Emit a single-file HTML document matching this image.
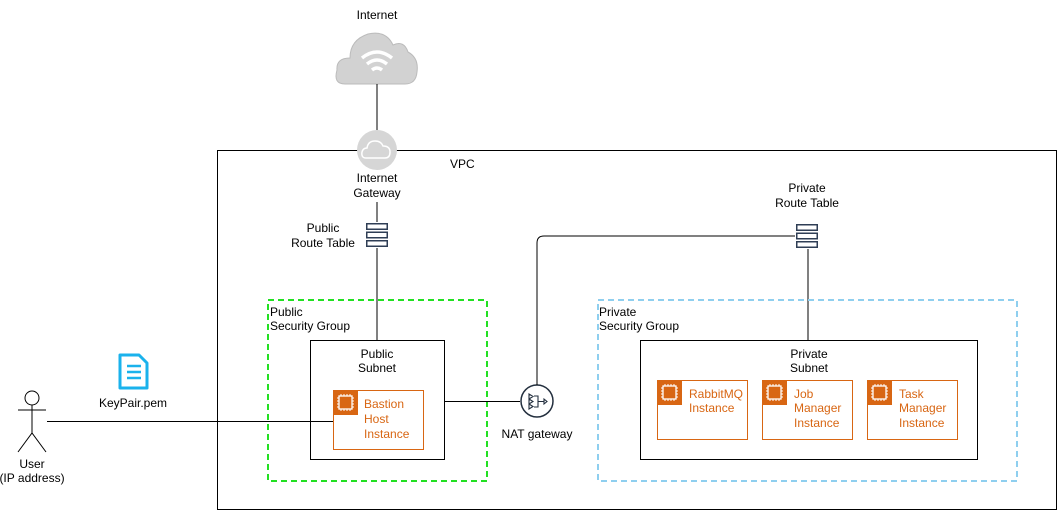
<!DOCTYPE html>
<html><head><meta charset="utf-8"><style>
html,body{margin:0;padding:0;background:#fff;}
svg{display:block;}
text{font-family:"Liberation Sans",Arial,sans-serif;font-size:12px;fill:#000;}
.o{fill:#D86613;}
</style></head><body>
<svg width="1058" height="511" viewBox="0 0 1058 511" xmlns="http://www.w3.org/2000/svg">
<defs>
<g id="chip">
<rect x="0" y="0" width="25" height="25" fill="#D86613"/>
<rect x="6" y="6" width="13" height="13" fill="none" stroke="#fff" stroke-width="1.3"/>
<path d="M8 4v2M11 4v2M14 4v2M17 4v2M8 19v2M11 19v2M14 19v2M17 19v2M4 8h2M4 11h2M4 14h2M4 17h2M19 8h2M19 11h2M19 14h2M19 17h2" stroke="#fff" stroke-width="1"/>
</g>
<g id="rt">
<rect x="0" y="0" width="22" height="7" fill="#2f3e55"/><rect x="1.5" y="1.5" width="19" height="4" fill="#fff"/>
<rect x="0" y="8.5" width="22" height="7" fill="#2f3e55"/><rect x="1.5" y="10" width="19" height="4" fill="#fff"/>
<rect x="0" y="17" width="22" height="7" fill="#2f3e55"/><rect x="1.5" y="18.5" width="19" height="4" fill="#fff"/>
</g>
</defs>
<!-- VPC -->
<rect x="217.5" y="150.5" width="839" height="359" fill="none" stroke="#000" stroke-width="1"/>
<text x="450" y="168">VPC</text>
<!-- Internet -->
<text x="377" y="19" text-anchor="middle">Internet</text>
<path d="M345 84 Q333 84 337 70 Q336 58 350 58 Q350 40 368 34 Q386 30 393 45 Q404 40 408 52 Q419 58 417 72 Q416 84 405 84 Z" fill="#d2d2d2" stroke="#bbb"/>
<path d="M362 58 Q377 46 392 58" fill="none" stroke="#fff" stroke-width="3.5"/>
<path d="M367 64 Q377 56 387 64" fill="none" stroke="#fff" stroke-width="3.5"/>
<path d="M372 70 Q377 66 382 70" fill="none" stroke="#fff" stroke-width="3.5"/>
<line x1="377" y1="84" x2="377" y2="130" stroke="#000"/>
<circle cx="377" cy="150" r="20" fill="#d6d6d6"/>
<path d="M366 158 Q361 158 362 152 Q363 148 367 148 Q368 141 375 141 Q381 141 383 146 Q390 146 390 152 Q390 158 385 158 Z" fill="none" stroke="#fff" stroke-width="1.5"/>
<text x="377" y="182" text-anchor="middle">Internet</text>
<text x="377" y="197" text-anchor="middle">Gateway</text>
<line x1="377" y1="202" x2="377" y2="222" stroke="#000"/>
<use href="#rt" x="366" y="223"/>
<text x="323" y="232" text-anchor="middle">Public</text>
<text x="323" y="247" text-anchor="middle">Route Table</text>
<line x1="377" y1="248" x2="377" y2="340" stroke="#000"/>
<!-- Public SG -->
<rect x="268" y="300" width="219" height="181" fill="none" stroke="#22e022" stroke-width="2" stroke-dasharray="6,4"/>
<text x="270" y="316">Public</text>
<text x="270" y="330">Security Group</text>
<rect x="310.5" y="340.5" width="134" height="119" fill="none" stroke="#000"/>
<text x="377" y="358" text-anchor="middle">Public</text>
<text x="377" y="372" text-anchor="middle">Subnet</text>
<rect x="333.5" y="390.5" width="90" height="59" fill="#fff" stroke="#D86613"/>
<use href="#chip" x="333" y="390"/>
<text class="o" x="364" y="408">Bastion</text>
<text class="o" x="364" y="423">Host</text>
<text class="o" x="364" y="438">Instance</text>
<!-- User -->
<circle cx="32" cy="398" r="7" fill="none" stroke="#000"/>
<line x1="32" y1="405" x2="32" y2="433" stroke="#000"/>
<line x1="18" y1="410" x2="46" y2="410" stroke="#000"/>
<path d="M18 452 L32 433 L46 452" fill="none" stroke="#000"/>
<text x="32" y="468" text-anchor="middle">User</text>
<text x="32" y="482" text-anchor="middle">(IP address)</text>
<line x1="47" y1="421.5" x2="333" y2="421.5" stroke="#000"/>
<!-- KeyPair -->
<path d="M120 355 H139 L147 363 V388 H120 Z" fill="#fff" stroke="#1ab2ec" stroke-width="3" stroke-linejoin="round"/>
<path d="M127 366h14M127 372h14M127 378h14" stroke="#1ab2ec" stroke-width="2.5"/>
<text x="133" y="407" text-anchor="middle">KeyPair.pem</text>
<!-- NAT -->
<line x1="445" y1="401.5" x2="520" y2="401.5" stroke="#000"/>
<circle cx="537" cy="401" r="16" fill="#fff" stroke="#232f3e" stroke-width="1.5"/>
<path d="M529 394l4 2.5l-4 2.5zM529 399l4 2.5l-4 2.5zM529 404l4 2.5l-4 2.5zM534 396h4v11h-4M538 401.5h6M544 399l3 2.5l-3 2.5z" fill="none" stroke="#232f3e" stroke-width="1.1"/>
<text x="537" y="438" text-anchor="middle">NAT gateway</text>
<path d="M537 385 V243 Q537 236 544 236 H795" fill="none" stroke="#000"/>
<!-- Private route table -->
<use href="#rt" x="796" y="224"/>
<text x="807" y="192" text-anchor="middle">Private</text>
<text x="807" y="207" text-anchor="middle">Route Table</text>
<line x1="808" y1="249" x2="808" y2="340" stroke="#000"/>
<!-- Private SG -->
<rect x="598" y="300" width="419" height="181" fill="none" stroke="#8fcfef" stroke-width="2" stroke-dasharray="6,4"/>
<text x="599" y="316">Private</text>
<text x="599" y="330">Security Group</text>
<rect x="640.5" y="340.5" width="337" height="119" fill="none" stroke="#000"/>
<text x="809" y="358" text-anchor="middle">Private</text>
<text x="809" y="372" text-anchor="middle">Subnet</text>
<rect x="657.5" y="380.5" width="90" height="59" fill="#fff" stroke="#D86613"/>
<use href="#chip" x="657" y="380"/>
<text class="o" x="689" y="398">RabbitMQ</text>
<text class="o" x="689" y="412">Instance</text>
<rect x="762.5" y="380.5" width="90" height="59" fill="#fff" stroke="#D86613"/>
<use href="#chip" x="762" y="380"/>
<text class="o" x="794" y="398">Job</text>
<text class="o" x="794" y="412">Manager</text>
<text class="o" x="794" y="427">Instance</text>
<rect x="867.5" y="380.5" width="90" height="59" fill="#fff" stroke="#D86613"/>
<use href="#chip" x="867" y="380"/>
<text class="o" x="899" y="398">Task</text>
<text class="o" x="899" y="412">Manager</text>
<text class="o" x="899" y="427">Instance</text>
</svg>
</body></html>
